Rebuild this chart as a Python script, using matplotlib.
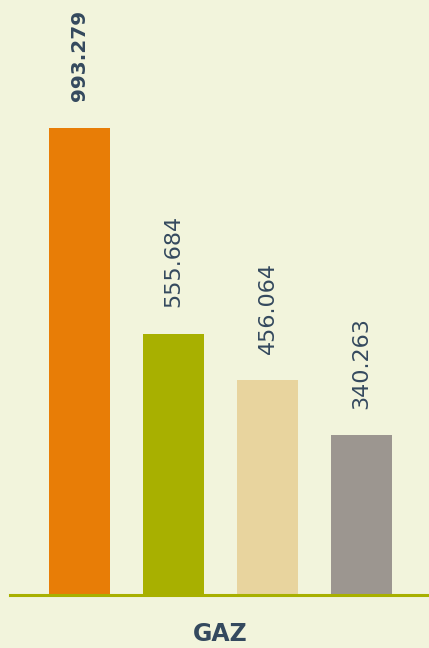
import numpy as np
import matplotlib.pyplot as plt

CATEGORY = "GAZ"
VALUES = [993.279, 555.684, 456.064, 340.263]
LABELS = ["993.279", "555.684", "456.064", "340.263"]
colors = ['#E87D06', '#A8B000', '#E8D49E', '#9C9690']
bg = '#F2F4DC'
txt = '#34495E'

fig = plt.figure(figsize=(4.29, 6.48), dpi=100, facecolor=bg)
ax = fig.add_axes([10/429, 53/648, 419/429, 595/648])
ax.set_facecolor(bg)

xpos = np.arange(len(VALUES))
bars = ax.bar(xpos, VALUES, width=0.65, color=colors, zorder=2)

for i, (rect, lab) in enumerate(zip(bars, LABELS)):
    ax.annotate(lab,
                xy=(rect.get_x() + rect.get_width() / 2, rect.get_height()),
                xytext=(0, 19), textcoords="offset points",
                rotation=90, ha='center', va='bottom',
                fontsize=14.5 if i == 0 else 16, color=txt,
                fontweight='bold' if i == 0 else 'normal')

ax.set_xlim(-0.739, 3.718)
ax.set_ylim(0, 1265)
for s in ['top', 'right', 'left']:
    ax.spines[s].set_visible(False)
ax.spines['bottom'].set_color('#A8B000')
ax.spines['bottom'].set_linewidth(2.2)
ax.spines['bottom'].set_zorder(3)
ax.set_xticks([])
ax.set_yticks([])

fig.text(220/429, 1 - 634/648, CATEGORY, ha='center', va='center',
         fontsize=17, fontweight='bold', color=txt)

plt.savefig("out.png", facecolor=bg)
